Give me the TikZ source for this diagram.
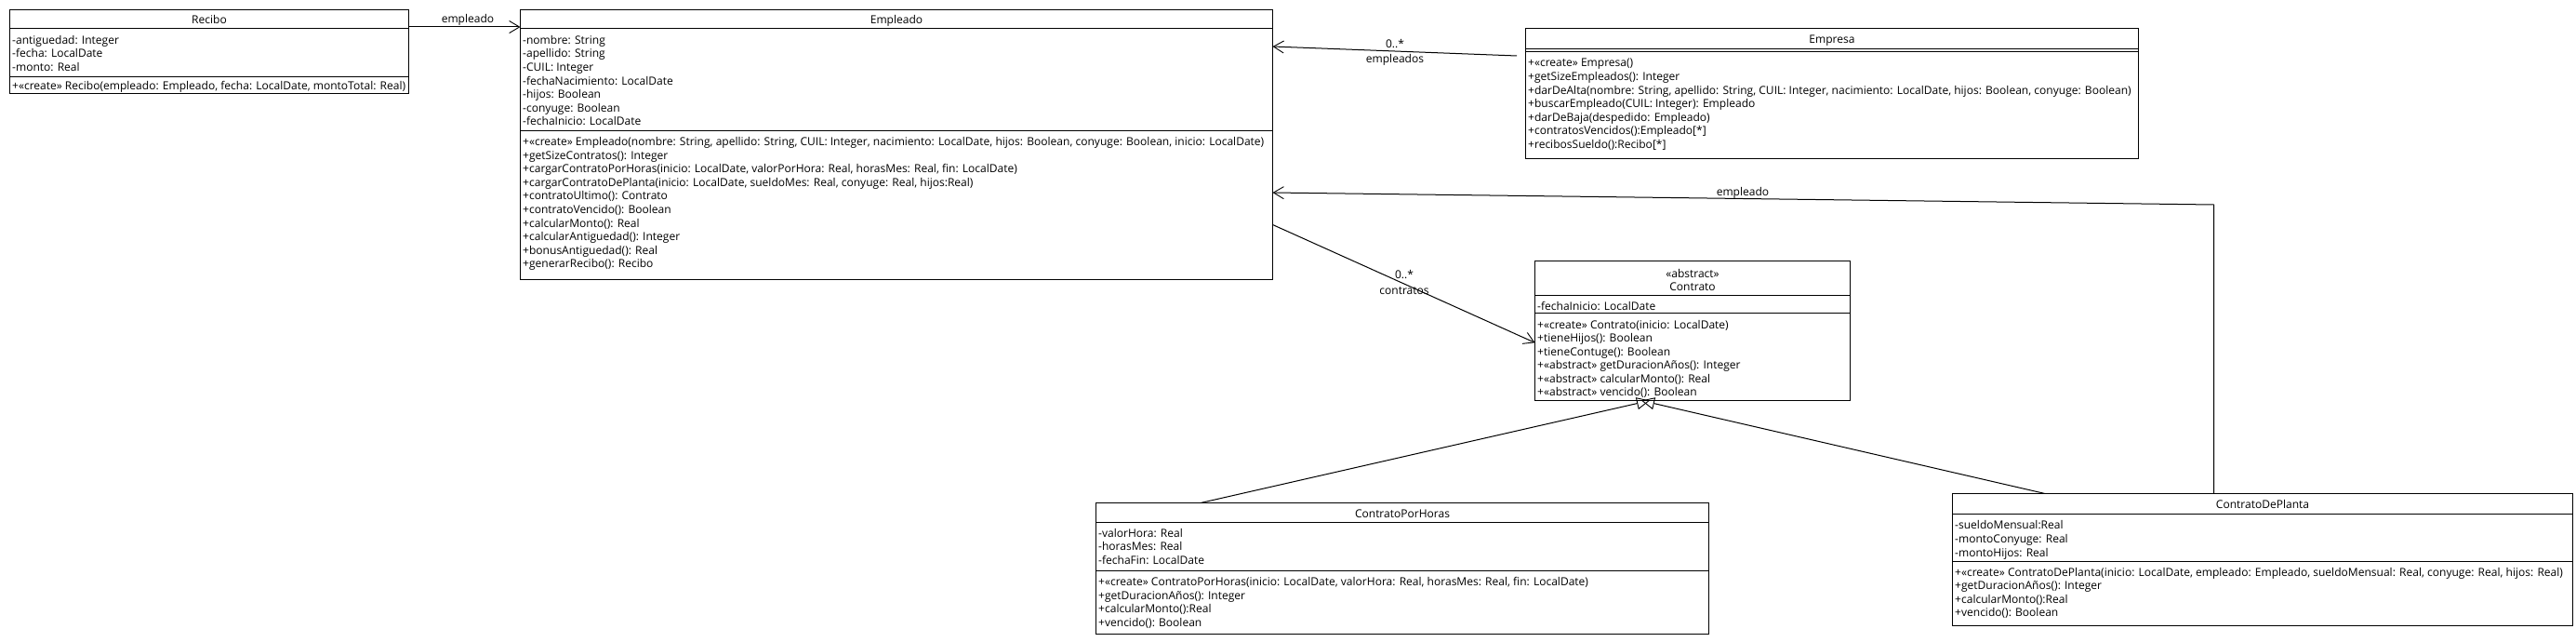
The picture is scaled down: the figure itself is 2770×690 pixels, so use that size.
\documentclass[tikz,border=0pt]{standalone}
\usepackage{fontspec}
\setmainfont{Open Sans}
\usetikzlibrary{arrows.meta,calc}
\tikzset{
  box/.style={draw, line width=1pt, inner sep=0pt, outer sep=0pt, anchor=north west},
  sepline/.style={line width=1pt},
  txt/.style={font=\fontsize{12.03}{14.6}\selectfont, inner sep=0pt, text=black},
  assoc/.style={line width=1pt, -{Straight Barb[length=11pt,width=13pt,line width=0.9pt]}},
  gen/.style={line width=1pt, -{Triangle[open,length=14pt,width=13pt,line width=0.9pt]}},
}
\newcommand\umltxt[5]{%
  \foreach \lbl [count=\i from 0] in {#5} {
    \node[txt, anchor=base west] (#1\i) at (#2, #3+\i*#4) {\lbl};
  }%
}
\begin{document}
\begin{tikzpicture}[x=1pt,y=-1pt]
\useasboundingbox (0,0) rectangle (2770,690);

% ---------------- Recibo
\node[box, minimum width=429, minimum height=90] (recibo) at (10.5,10.5) {};
\draw[sepline] (recibo.west |- 0,30.5) -- (recibo.east |- 0,30.5);
\draw[sepline] (recibo.west |- 0,82.5) -- (recibo.east |- 0,82.5);
\node[txt, anchor=base] (recibo-t) at (recibo.north |- 0,26) {Recibo};
\umltxt{recibo-a}{13}{47.3}{14.6}{{-antiguedad: Integer},{-fecha: LocalDate},{-monto: Real}}
\umltxt{recibo-o}{13}{96.5}{14.6}{{+«create» Recibo(empleado: Empleado, fecha: LocalDate, montoTotal: Real)}}

% ---------------- Empleado
\node[box, minimum width=809, minimum height=290] (empleado) at (559.5,10.5) {};
\draw[sepline] (empleado.west |- 0,30.5) -- (empleado.east |- 0,30.5);
\draw[sepline] (empleado.west |- 0,140.5) -- (empleado.east |- 0,140.5);
\node[txt, anchor=base] (empleado-t) at (empleado.north |- 0,26) {Empleado};
\umltxt{empleado-a}{562}{47.3}{14.6}{{-nombre: String},{-apellido: String},{-CUIL: Integer},{-fechaNacimiento: LocalDate},{-hijos: Boolean},{-conyuge: Boolean},{-fechaInicio: LocalDate}}
\umltxt{empleado-o}{562}{156.5}{14.6}{{+«create» Empleado(nombre: String, apellido: String, CUIL: Integer, nacimiento: LocalDate, hijos: Boolean, conyuge: Boolean, inicio: LocalDate)},{+getSizeContratos(): Integer},{+cargarContratoPorHoras(inicio: LocalDate, valorPorHora: Real, horasMes: Real, fin: LocalDate)},{+cargarContratoDePlanta(inicio: LocalDate, sueldoMes: Real, conyuge: Real, hijos:Real)},{+contratoUltimo(): Contrato},{+contratoVencido(): Boolean},{+calcularMonto(): Real},{+calcularAntiguedad(): Integer},{+bonusAntiguedad(): Real},{+generarRecibo(): Recibo}}

% ---------------- Empresa
\node[box, minimum width=659, minimum height=140] (empresa) at (1640.5,30.5) {};
\draw[sepline] (empresa.west |- 0,52.5) -- (empresa.east |- 0,52.5);
\draw[sepline] (empresa.west |- 0,55.5) -- (empresa.east |- 0,55.5);
\node[txt, anchor=base] (empresa-t) at (empresa.north |- 0,46.5) {Empresa};
\umltxt{empresa-o}{1643}{72}{14.6}{{+«create» Empresa()},{+getSizeEmpleados(): Integer},{+darDeAlta(nombre: String, apellido: String, CUIL: Integer, nacimiento: LocalDate, hijos: Boolean, conyuge: Boolean)},{+buscarEmpleado(CUIL: Integer): Empleado},{+darDeBaja(despedido: Empleado)},{+contratosVencidos():Empleado[*]},{+recibosSueldo():Recibo[*]}}

% ---------------- Contrato
\node[box, minimum width=339, minimum height=150] (contrato) at (1650.5,280.5) {};
\draw[sepline] (contrato.west |- 0,317.5) -- (contrato.east |- 0,317.5);
\draw[sepline] (contrato.west |- 0,336.5) -- (contrato.east |- 0,336.5);
\node[txt, anchor=base] (contrato-s) at (contrato.north |- 0,298) {«abstract»};
\node[txt, anchor=base] (contrato-t) at (contrato.north |- 0,312) {Contrato};
\umltxt{contrato-a}{1653}{333}{14.5}{{-fechaInicio: LocalDate}}
\umltxt{contrato-o}{1653}{353}{14.5}{{+«create» Contrato(inicio: LocalDate)},{+tieneHijos(): Boolean},{+tieneContuge(): Boolean},{+«abstract» getDuracionAños(): Integer},{+«abstract» calcularMonto(): Real},{+«abstract» vencido(): Boolean}}

% ---------------- ContratoPorHoras
\node[box, minimum width=659, minimum height=141] (cph) at (1178.5,540.5) {};
\draw[sepline] (cph.west |- 0,561.5) -- (cph.east |- 0,561.5);
\draw[sepline] (cph.west |- 0,613.5) -- (cph.east |- 0,613.5);
\node[txt, anchor=base] (cph-t) at (cph.north |- 0,556) {ContratoPorHoras};
\umltxt{cph-a}{1181}{577}{14.6}{{-valorHora: Real},{-horasMes: Real},{-fechaFin: LocalDate}}
\umltxt{cph-o}{1181}{629.5}{14.6}{{+«create» ContratoPorHoras(inicio: LocalDate, valorHora: Real, horasMes: Real, fin: LocalDate)},{+getDuracionAños(): Integer},{+calcularMonto():Real},{+vencido(): Boolean}}

% ---------------- ContratoDePlanta
\node[box, minimum width=667, minimum height=142] (cdp) at (2099.5,530.5) {};
\draw[sepline] (cdp.west |- 0,552.5) -- (cdp.east |- 0,552.5);
\draw[sepline] (cdp.west |- 0,603.5) -- (cdp.east |- 0,603.5);
\node[txt, anchor=base] (cdp-t) at (cdp.north |- 0,546.5) {ContratoDePlanta};
\umltxt{cdp-a}{2102}{568.8}{14.6}{{-sueldoMensual:Real},{-montoConyuge: Real},{-montoHijos: Real}}
\umltxt{cdp-o}{2102}{619}{14.6}{{+«create» ContratoDePlanta(inicio: LocalDate, empleado: Empleado, sueldoMensual: Real, conyuge: Real, hijos: Real)},{+getDuracionAños(): Integer},{+calcularMonto():Real},{+vencido(): Boolean}}

% ---------------- connectors
\draw[assoc] (recibo.east |- 0,29) -- (empleado.west |- 0,29);
\node[txt, anchor=base] (lbl-recibo) at (503,24.5) {empleado};

\draw[assoc] ($(empresa.west |- 0,60)+(-9.5,0)$) -- (empleado.east |- 0,50);
\node[txt, anchor=base] (lbl-empresa-m) at (1500,52) {0..*};
\node[txt, anchor=base] (lbl-empresa-r) at (1500,68) {empleados};

\draw[assoc] (empleado.east |- 0,241.5) -- (contrato.west |- 0,368.3);
\node[txt, anchor=base] (lbl-contrato-m) at (1510,299.5) {0..*};
\node[txt, anchor=base] (lbl-contrato-r) at (1510,316) {contratos};

\coordinate (bend) at (2380.5,220);
\draw[assoc] (cdp.north -| bend) -- (bend) -- (empleado.east |- 0,207);
\node[txt, anchor=base] (lbl-cdp) at (1874,210.5) {empleado};

\draw[gen] (cph.north -| 1291,0) -- (contrato.south -| 1774,0);
\draw[gen] (cdp.north -| 2199,0) -- (contrato.south -| 1765,0);
\end{tikzpicture}
\end{document}
